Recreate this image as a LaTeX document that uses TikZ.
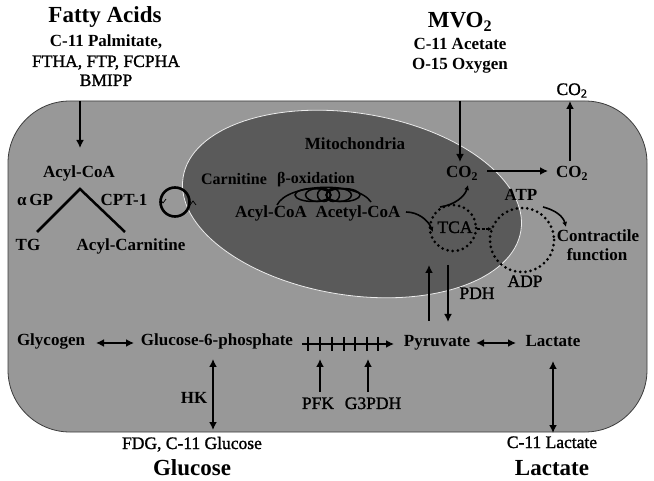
\documentclass[tikz,border=0pt]{standalone}
\usepackage{fontspec}
\setmainfont{Liberation Serif}
\newfontfamily\semibfont[FakeBold=1.3]{Liberation Serif}
\usetikzlibrary{arrows.meta,calc}
\definecolor{cellgray}{RGB}{152,152,152}
\definecolor{mitogray}{RGB}{90,90,90}
\definecolor{edgegray}{RGB}{60,60,60}
\begin{document}
\begin{tikzpicture}[x=1pt,y=-1pt,
  lbl/.style={font=\bfseries\fontsize{17}{19}\selectfont, inner sep=0pt, anchor=base},
  rlbl/.style={font=\semibfont\fontsize{17.5}{19}\selectfont, inner sep=0pt, anchor=base},
  big/.style={font=\bfseries\fontsize{23}{25}\selectfont, inner sep=0pt, anchor=base},
  arr/.style={line width=2.3pt, -{Latex[length=8pt,width=8pt]}},
  darr/.style={line width=2.3pt, {Latex[length=8pt,width=8pt]}-{Latex[length=8pt,width=8pt]}},
  thinarr/.style={line width=1.6pt, -{Latex[length=5pt,width=5pt]}},
  dotc/.style={line width=3pt, dash pattern=on 0pt off 5.2pt, line cap=round},
  plainline/.style={line width=2.5pt},
  spir/.style={line width=1.5pt}
]
\useasboundingbox (0,0) rectangle (654,481);
\fill[white] (0,0) rectangle (654,481);

% cell
\draw[fill=cellgray, draw=edgegray, line width=0.8pt, rounded corners=62] (8,101) rectangle (647,432);

% mitochondrion
\draw[fill=mitogray, draw=white!85!gray, line width=0.8pt] (352,204) [rotate around={-9:(352,204)}] ellipse [x radius=171, y radius=91];

% ---------- top labels ----------
\node[big] (fa) at (105,23) {Fatty Acids};
\node[lbl] (fa1) at (106,47) {C-11 Palmitate,};
\node[rlbl] (fa2) at (106,67) {FTHA, FTP, FCPHA};
\node[rlbl] (fa3) at (106,86) {BMIPP};

\node[big] (mvo) at (460,28) {MVO\textsubscript{2}};
\node[lbl] (mvo1) at (460,50) {C-11 Acetate};
\node[lbl] (mvo2) at (460,70) {O-15 Oxygen};

\node[rlbl] (co2top) at (572,95) {CO\textsubscript{2}};

% ---------- fatty acid branch ----------
\node[lbl] (acoa) at (79,178) {Acyl-CoA};
\node[lbl] (agp) at (35,206) {α\,GP};
\node[lbl] (cpt) at (124,206) {CPT-1};
\node[lbl] (tg) at (28,251) {TG};
\node[lbl] (acarn) at (131,251) {Acyl-Carnitine};

\coordinate (faS) at (80,101);
\coordinate (faE) at (80,148);
\draw[arr] (faS) -- (faE);

\coordinate (apex) at (80,189);
\coordinate (lfoot) at (37,232);
\coordinate (rfoot) at (125,232);
\draw[plainline, line join=miter] (lfoot) -- (apex) -- (rfoot);

\node[circle, draw, line width=2.6pt, minimum size=29pt, inner sep=0pt] (cptc) at (175,202) {};
\draw[line width=0.7pt] (160,199) -- (163,203) -- (166,199);
\draw[line width=0.7pt] (190,205) -- (193,201) -- (196,205);

% ---------- mitochondria contents ----------
\node[lbl] (mito) at (355,150) {Mitochondria};
\node[lbl, font=\bfseries\fontsize{16}{18}\selectfont] (carn) at (234,185) {Carnitine};
\node[lbl, font=\bfseries\fontsize{16}{18}\selectfont] (box) at (316,184) {β-oxidation};
\node[lbl] (macoa) at (271,218) {Acyl-CoA};
\node[lbl] (acet) at (358,218) {Acetyl-CoA};

% spiral
\draw[spir] (277,205) .. controls (288,183) and (357,181) .. (371,202);
\draw[spir] (313,195) ellipse [x radius=18, y radius=6.5];
\draw[spir] (318,195) ellipse [x radius=12.5, y radius=6.5];
\draw[spir] (324,195) circle [radius=6.5];
\draw[spir] (333,195) circle [radius=6.5];
\draw[spir] (339,195) ellipse [x radius=12.5, y radius=6.5];
\draw[spir] (343,195) ellipse [x radius=17, y radius=6.5];

% CO2 and TCA
\node[lbl] (co2in) at (462,178) {CO\textsubscript{2}};
\node[lbl] (co2out) at (572,178) {CO\textsubscript{2}};
\coordinate (mvoS) at (460,101);
\coordinate (mvoE) at (460,162);
\draw[arr] (mvoS) -- (mvoE);
\coordinate (c2a) at (487,171);
\coordinate (c2b) at (548,171);
\draw[arr] (c2a) -- (c2b);
\coordinate (upS) at (570,161);
\coordinate (upE) at (570,101);
\draw[arr] (upS) -- (upE);

\node[circle, minimum size=46pt, inner sep=0pt] (tcac) at (453,228) {};
\draw[dotc] (tcac.center) circle [radius=23];
\node[rlbl] (tca) at (455,233) {TCA};

\node[circle, minimum size=64pt, inner sep=0pt] (atpc) at (522,240) {};
\draw[dotc] (atpc.center) circle [radius=32];
\node[lbl] (atp) at (521,201) {ATP};
\node[rlbl] (adp) at (525,287) {ADP};
\node[lbl] (contr) at (598,242) {Contractile};
\node[lbl] (func) at (597,261) {function};

\coordinate (acA) at (406,212);
\coordinate (acB) at (433,232);
\draw[thinarr] (acA) .. controls (418,212) and (428,220) .. (acB);
\coordinate (tcA) at (440,207);
\coordinate (tcB) at (468,185);
\draw[thinarr] (tcA) .. controls (455,205) and (465,196) .. (tcB);
\coordinate (taA) at (477,229);
\coordinate (taB) at (492,229);
\draw[line width=1.2pt, dash pattern=on 3pt off 1.5pt, -{Latex[length=4pt,width=4pt]}] (taA) -- (taB);
\coordinate (atA) at (543,207);
\coordinate (atB) at (566,227);
\draw[thinarr] (atA) .. controls (555,210) and (563,216) .. (atB);

% PDH arrows
\coordinate (pu1) at (429,321);
\coordinate (pu2) at (429,265);
\draw[arr] (pu1) -- (pu2);
\coordinate (pd1) at (448,265);
\coordinate (pd2) at (448,322);
\draw[arr] (pd1) -- (pd2);
\node[rlbl] (pdh) at (477,299) {PDH};

% ---------- glycolysis row ----------
\node[lbl] (glyc) at (51,346) {Glycogen};
\node[lbl] (g6p) at (217,346) {Glucose-6-phosphate};
\node[lbl] (pyr) at (437,347) {Pyruvate};
\node[lbl] (lac) at (553,347) {Lactate};

\coordinate (gg1) at (96,343);
\coordinate (gg2) at (134,343);
\draw[darr] (gg1) -- (gg2);
\coordinate (pl1) at (476,343);
\coordinate (pl2) at (516,343);
\draw[darr] (pl1) -- (pl2);

\coordinate (h1) at (302,344);
\coordinate (h2) at (394,344);
\draw[arr] (h1) -- (h2);
\foreach \tx in {308,320,332,343.5,355,367,378}
  \draw[line width=2pt] (\tx,337) -- (\tx,351);

\coordinate (pf1) at (320,392);
\coordinate (pf2) at (320,359);
\draw[arr] (pf1) -- (pf2);
\coordinate (g31) at (368,392);
\coordinate (g32) at (368,359);
\draw[arr] (g31) -- (g32);
\node[rlbl] (pfk) at (318,409) {PFK};
\node[rlbl] (g3p) at (373,409) {G3PDH};

\coordinate (hk1) at (213,359);
\coordinate (hk2) at (213,430);
\draw[darr] (hk1) -- (hk2);
\node[lbl] (hk) at (194,403) {HK};

\coordinate (lv1) at (553,361);
\coordinate (lv2) at (553,433);
\draw[darr] (lv1) -- (lv2);

% ---------- bottom labels ----------
\node[rlbl] (fdg) at (192,449) {FDG, C-11 Glucose};
\node[big] (glu) at (192,475) {Glucose};
\node[rlbl] (c11l) at (552,448) {C-11 Lactate};
\node[big] (lacb) at (552,475) {Lactate};
\end{tikzpicture}
\end{document}
